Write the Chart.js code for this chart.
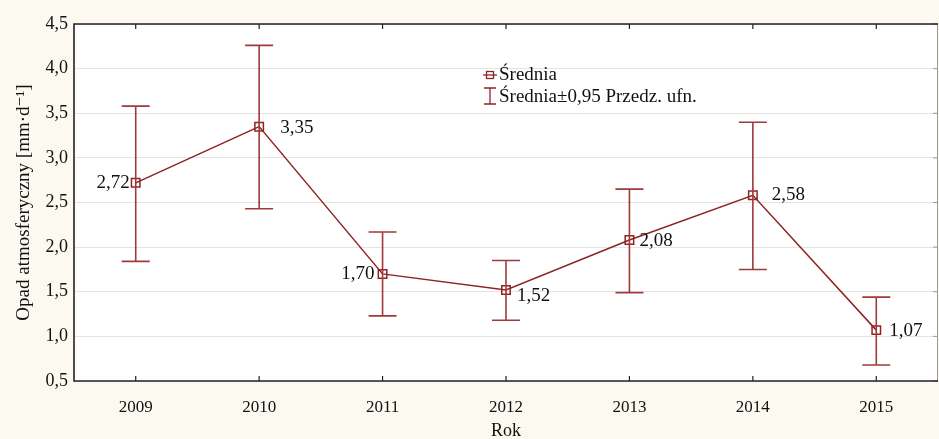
<!DOCTYPE html>
<html lang="pl">
<head>
  <meta charset="UTF-8">
  <title>Opad atmosferyczny</title>
  <style>
    html, body { margin: 0; padding: 0; background: #fcf9f1; }
    #wrap { width: 939px; height: 439px; }
  </style>
</head>
<body>
<div id="wrap"><canvas id="wykres" width="939" height="439"></canvas></div>

<script src="https://cdn.jsdelivr.net/npm/chart.js"></script>
<script>
  const lata = ['2009', '2010', '2011', '2012', '2013', '2014', '2015'];
  const srednia = [2.72, 3.35, 1.70, 1.52, 2.08, 2.58, 1.07];
  const gornaGranica = [3.58, 4.26, 2.17, 1.85, 2.65, 3.40, 1.44];
  const dolnaGranica = [1.84, 2.43, 1.23, 1.18, 1.49, 1.75, 0.68];
  // przesunięcie etykiety wartości względem punktu (px)
  const etykietaDx = [-6, 21, -8, 11, 10, 19, 13];
  const etykietaDy = [0, 1, 0, 6, 1, 0, 1];

  const kolor = '#8e2424';
  const czcionka = '"Liberation Serif", "DejaVu Serif", serif';
  const fmt = v => v.toFixed(2).replace('.', ',');

  const tloIRamka = {
    id: 'tloIRamka',
    beforeDraw(chart) {
      const { ctx, chartArea: a } = chart;
      ctx.save();
      ctx.fillStyle = '#fcf9f1';
      ctx.fillRect(0, 0, chart.width, chart.height);
      ctx.fillStyle = '#ffffff';
      ctx.fillRect(a.left, a.top, a.right - a.left, a.bottom - a.top);
      ctx.restore();
    },
    afterDraw(chart) {
      const { ctx, chartArea: a, scales } = chart;
      ctx.save();
      // prawa ramka - cienka, szara
      ctx.strokeStyle = '#9a9a9a';
      ctx.lineWidth = 1;
      ctx.beginPath();
      ctx.moveTo(a.right - 0.5, a.top);
      ctx.lineTo(a.right - 0.5, a.bottom);
      ctx.stroke();
      scales.y.ticks.forEach(t => {
        const y = scales.y.getPixelForValue(t.value);
        ctx.beginPath();
        ctx.moveTo(a.right, y);
        ctx.lineTo(a.right - 5, y);
        ctx.stroke();
      });
      // lewa, górna i dolna ramka
      ctx.strokeStyle = '#222';
      ctx.lineWidth = 1.6;
      ctx.beginPath();
      ctx.moveTo(a.right, a.top);
      ctx.lineTo(a.left, a.top);
      ctx.lineTo(a.left, a.bottom);
      ctx.lineTo(a.right, a.bottom);
      ctx.stroke();
      ctx.lineWidth = 1.2;
      lata.forEach((_, i) => {
        const x = scales.x.getPixelForValue(i);
        ctx.beginPath();
        ctx.moveTo(x, a.top);
        ctx.lineTo(x, a.top + 5);
        ctx.moveTo(x, a.bottom);
        ctx.lineTo(x, a.bottom - 5);
        ctx.stroke();
      });
      ctx.restore();
    }
  };

  const przedzialy = {
    id: 'przedzialy',
    afterDatasetsDraw(chart) {
      const { ctx, scales } = chart;
      ctx.save();
      ctx.strokeStyle = '#a03a3a';
      ctx.lineWidth = 1.6;
      lata.forEach((_, i) => {
        const x = scales.x.getPixelForValue(i);
        const yG = scales.y.getPixelForValue(gornaGranica[i]);
        const yD = scales.y.getPixelForValue(dolnaGranica[i]);
        ctx.beginPath();
        ctx.moveTo(x, yG); ctx.lineTo(x, yD);
        ctx.moveTo(x - 14, yG); ctx.lineTo(x + 14, yG);
        ctx.moveTo(x - 14, yD); ctx.lineTo(x + 14, yD);
        ctx.stroke();
      });
      // etykiety wartości
      ctx.fillStyle = '#111';
      ctx.font = '19px ' + czcionka;
      ctx.textBaseline = 'middle';
      srednia.forEach((v, i) => {
        const x = scales.x.getPixelForValue(i);
        const y = scales.y.getPixelForValue(v);
        ctx.textAlign = etykietaDx[i] < 0 ? 'right' : 'left';
        ctx.fillText(fmt(v), x + etykietaDx[i], y + etykietaDy[i]);
      });
      ctx.restore();
    }
  };

  const legenda = {
    id: 'legenda',
    afterDraw(chart) {
      const { ctx } = chart;
      ctx.save();
      ctx.strokeStyle = kolor;
      ctx.lineWidth = 1.3;
      // średnia
      ctx.beginPath();
      ctx.moveTo(483, 75); ctx.lineTo(497, 75);
      ctx.stroke();
      ctx.strokeRect(486.5, 71.5, 7, 7);
      // przedział
      ctx.beginPath();
      ctx.moveTo(484, 88); ctx.lineTo(496, 88);
      ctx.moveTo(490, 88); ctx.lineTo(490, 104);
      ctx.moveTo(484, 104); ctx.lineTo(496, 104);
      ctx.stroke();
      ctx.fillStyle = '#111';
      ctx.font = '19px ' + czcionka;
      ctx.textAlign = 'left';
      ctx.textBaseline = 'middle';
      ctx.fillText('Średnia', 499, 75);
      ctx.fillText('Średnia±0,95 Przedz. ufn.', 499, 97);
      ctx.restore();
    }
  };

  new Chart(document.getElementById('wykres').getContext('2d'), {
    type: 'line',
    data: {
      labels: lata,
      datasets: [{
        label: 'Średnia',
        data: srednia,
        borderColor: kolor,
        borderWidth: 1.5,
        pointStyle: 'rect',
        pointRadius: 6,
        pointBorderWidth: 1.5,
        pointBackgroundColor: 'rgba(255,255,255,0)',
        pointBorderColor: kolor,
        tension: 0
      }]
    },
    options: {
      responsive: false,
      animation: false,
      layout: { autoPadding: false, padding: { top: 24, right: 1, left: 0, bottom: 0 } },
      plugins: {
        legend: { display: false },
        tooltip: { enabled: false }
      },
      scales: {
        x: {
          offset: true,
          grid: { display: false, drawTicks: false },
          border: { display: false },
          ticks: {
            color: '#111',
            font: { family: czcionka, size: 17 },
            padding: 16
          },
          title: {
            display: true,
            text: 'Rok',
            color: '#111',
            font: { family: czcionka, size: 18 },
            padding: { top: 6, bottom: -3 }
          },
          afterFit(s) {
            s.height = 58;
            s.paddingLeft = 0;
            s.paddingRight = 0;
          }
        },
        y: {
          min: 0.5,
          max: 4.5,
          ticks: {
            stepSize: 0.5,
            color: '#111',
            font: { family: czcionka, size: 18 },
            padding: 6,
            callback: v => v.toFixed(1).replace('.', ',')
          },
          grid: { color: '#e4e4e4', lineWidth: 1, drawTicks: false },
          border: { display: false },
          title: {
            display: true,
            text: 'Opad atmosferyczny [mm·d⁻¹]',
            color: '#111',
            font: { family: czcionka, size: 19 },
            padding: { top: 13, bottom: 0 }
          },
          afterFit(s) { s.width = 74; }
        }
      }
    },
    plugins: [tloIRamka, przedzialy, legenda]
  });
</script>
</body>
</html>
